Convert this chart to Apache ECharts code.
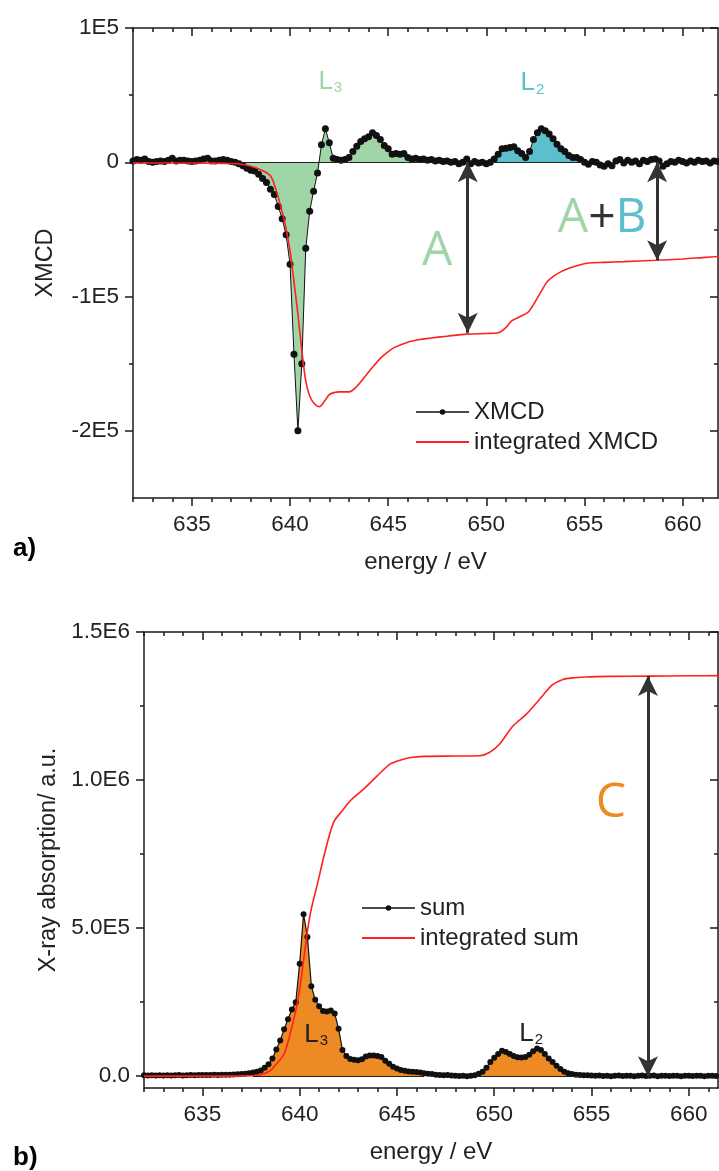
<!DOCTYPE html>
<html><head><meta charset="utf-8">
<script src="https://cdn.jsdelivr.net/npm/echarts@6/dist/echarts.min.js"></script>
<style>html,body{margin:0;padding:0;background:#fff}#c{width:719px;height:1171px}</style>
</head><body><div id="c"></div><script>
// ---------- DATA ----------
const energy = [632.0,632.2,632.4,632.6,632.8,633.0,633.2,633.4,633.6,633.8,634.0,634.2,634.4,634.6,634.8,635.0,635.2,635.4,635.6,635.8,636.0,636.2,636.4,636.6,636.8,637.0,637.2,637.4,637.6,637.8,638.0,638.2,638.4,638.6,638.8,639.0,639.2,639.4,639.6,639.8,640.0,640.2,640.4,640.6,640.8,641.0,641.2,641.4,641.6,641.8,642.0,642.2,642.4,642.6,642.8,643.0,643.2,643.4,643.6,643.8,644.0,644.2,644.4,644.6,644.8,645.0,645.2,645.4,645.6,645.8,646.0,646.2,646.4,646.6,646.8,647.0,647.2,647.4,647.6,647.8,648.0,648.2,648.4,648.6,648.8,649.0,649.2,649.4,649.6,649.8,650.0,650.2,650.4,650.6,650.8,651.0,651.2,651.4,651.6,651.8,652.0,652.2,652.4,652.6,652.8,653.0,653.2,653.4,653.6,653.8,654.0,654.2,654.4,654.6,654.8,655.0,655.2,655.4,655.6,655.8,656.0,656.2,656.4,656.6,656.8,657.0,657.2,657.4,657.6,657.8,658.0,658.2,658.4,658.6,658.8,659.0,659.2,659.4,659.6,659.8,660.0,660.2,660.4,660.6,660.8,661.0,661.2,661.4,661.6,661.8,662.0];

const xmcd = [
1000,2000,1500,2500,500, 0,500,1000,500,1500, 3000,1000,1500,1500,1000, 500,1000,1500,2500,3000,
1000,1000,1500,2000,1500, 500,0,-1000,-2500,-4500, -6000,-6500,-9000,-12000,-15000,
-20000,-24000,-33000,-42000,-54000, -76000,-143000,-200000,-150000,-64000,
-36500,-21500,-8000,13000,25000, 14500,3000,2000,1500,2000, 3500,8000,12000,15500,17500,
19000,22000,20000,17000,12500, 10000,6000,6500,6000,6500, 3500,2500,3000,2000,2500,
1500,2000,1000,1500,500, 1000,0,500,-1000,0, 2500,-1000,500,-500,0,
-1000,0,2500,6000,10000, 10500,11000,11500,8500,6500, 3500,8000,17000,22000,25000,
23500,21000,17500,13500,10000, 8000,5000,3500,3500,2000, 0,-1500,500,0,-2000,
-3000,-1000,-2500,1000,2000, -500,1500,0,1000,-1000, 1500,500,2000,2500,1000,
-3000,-1000,500,0,1500, 500,-500,1000,0,1500, 500,1000,-500,1000,500, 1000];

const sumXas = [
3000,2000,3000,2000,3000, 2500,3000,2000,3000,3500, 2500,3000,3500,3000,4000, 3500,4000,3500,4500,4000,
5000,4500,5000,6000,6500, 7000,8000,10000,12000,15000, 19000,28000,40000,60000,90000,
120000,158000,192000,225000,250000, 380000,547000,470000,304000,258000,
236000,220000,218000,222000,212000, 160000,88000,68000,58000,55000, 54000,57000,66000,70000,70000,
68000,65000,52000,42000,32000, 26000,21000,18000,16000,15000, 14000,12000,10000,8000,7000,
5000,4000,3000,3500,2000, 1000,500,1500,0,1000, 3000,8000,15000,28000,48000,
62000,75000,86000,82000,75000, 68000,64000,63000,65000,72000, 84000,93000,88000,75000,60000,
48000,35000,24000,15000,10000, 7000,5000,4000,3000,3000, 2000,1000,2000,500,1500,
0,1000,2000,500,1500, 1000,0,1500,2000,500, 1000,2000,0,1500,1000,
500,1500,1000,0,1500, 1000,500,1500,1000,0, 1000,1500,500,1000,1500, 1000];

const intEnergyXmcd = [632,634,636,637,637.5,638,638.5,639,639.25,639.5,639.75,640,640.2,640.4,640.6,640.8,641,641.25,641.5,641.75,642,642.25,642.5,643,643.4,643.9,644.3,644.6,645,645.3,646,646.6,647.1,648,649,650,650.6,651,651.3,651.7,652.1,652.4,652.8,653.1,653.5,654.2,655.2,656,657,658.6,660,661,662];
const intXmcd = [-500,-500,-600,-900,-1500,-3000,-5500,-10000,-19000,-31500,-46000,-66000,-89000,-113000,-140000,-163000,-174000,-180000,-182000,-178000,-173000,-171500,-171000,-171000,-167000,-158000,-151000,-146000,-141000,-138000,-134000,-132000,-131000,-129500,-128000,-127500,-127000,-123000,-118000,-115000,-112000,-106000,-96000,-89000,-84000,-79000,-75000,-74500,-74000,-73000,-72000,-71000,-70000];

const intEnergySum = [632,636,637,638,638.5,638.8,639.2,639.55,639.9,640.2,640.4,640.6,640.9,641.3,641.75,642.2,642.6,643.3,644,644.65,645.2,645.7,646.4,648,649.24,649.75,650.27,650.95,651.64,652.32,653,653.5,654,654.7,656,658,660,662];
const intSum = [0,0,1000,5000,19000,41000,75000,153000,254000,390000,490000,565000,645000,757000,858000,897000,930000,970000,1015000,1054000,1068000,1076000,1080000,1081000,1082000,1093000,1121000,1182000,1222000,1272000,1322000,1339000,1345000,1348000,1350000,1351000,1352000,1353000];

const xTicks = [635,640,645,650,655,660];
const yTicksA = [-200000,-100000,0,100000];
const yTickLabelsA = ['-2E5','-1E5','0','1E5'];
const yTicksB = [0,500000,1000000,1500000];
const yTickLabelsB = ['0.0','5.0E5','1.0E6','1.5E6'];

const l3Range = [637.2, 647.0];   // green filled L3 region (XMCD)
const l2Range = [650.2, 655.0];   // teal filled L2 region (XMCD)
const sumL3Range = [637.6, 646.4];
const sumL2Range = [649.0, 654.4];

const arrowA = [649.05, 0, -127000];
const arrowAB = [658.7, 0, -73000];
const arrowC = [657.9, 0, 1351000];

// ---------- STYLE ----------
const FONT = 'Liberation Sans';
const AX = '#1a1a1a';
const GREEN = '#a0d5a8', TEAL = '#5bbfcc', ORANGE = '#ee8a23', RED = '#ff2020';
const LINE_ICON = 'path://M0,0M53,12M0,5.1L53,5.1L53,6.9L0,6.9Z';
const DOT_ICON = 'path://M0,0M53,12M0,5.3L53,5.3L53,6.7L0,6.7Z M29.3,6A2.8,2.8 0 1,1 23.7,6A2.8,2.8 0 1,1 29.3,6Z';

const pts = (xs, ys) => xs.map((x, i) => [x, ys[i]]);
const xmcdPts = pts(energy, xmcd);
const sumPts = pts(energy, sumXas);
const inRange = (p, r) => p.filter(d => d[0] >= r[0] - 1e-9 && d[0] <= r[1] + 1e-9);

function xAxes(g, xmax) {
  const minor = [];
  for (let v = 632; v <= xmax; v++) if (xTicks.indexOf(v) < 0) minor.push(v);
  const base = {gridIndex: g, type: 'value', min: 632, max: xmax, splitLine: {show: false}};
  return [
    Object.assign({}, base, {position: 'bottom',
      axisLine: {show: true, onZero: false, lineStyle: {color: AX, width: 1.5}},
      axisTick: {show: true, customValues: xTicks, length: 8, lineStyle: {color: AX, width: 1.5}},
      axisLabel: {show: true, customValues: xTicks, fontSize: 22.5, color: '#222', fontFamily: FONT, margin: 15},
      name: 'energy / eV', nameLocation: 'middle', nameGap: 52,
      nameTextStyle: {fontSize: 24, color: '#222', fontFamily: FONT}}),
    Object.assign({}, base, {position: 'bottom', axisLine: {show: false, onZero: false},
      axisTick: {show: true, customValues: minor, length: 4, lineStyle: {color: AX, width: 1.5}},
      axisLabel: {show: false}}),
    Object.assign({}, base, {position: 'top',
      axisLine: {show: true, onZero: false, lineStyle: {color: AX, width: 1.5}},
      axisTick: {show: true, inside: true, customValues: xTicks, length: 8, lineStyle: {color: AX, width: 1.5}},
      axisLabel: {show: false}}),
    Object.assign({}, base, {position: 'top', axisLine: {show: false, onZero: false},
      axisTick: {show: true, inside: true, customValues: minor, length: 4, lineStyle: {color: AX, width: 1.5}},
      axisLabel: {show: false}})
  ];
}
function yAxes(g, min, max, majors, labels, minors, name, nameGap) {
  const base = {gridIndex: g, type: 'value', min: min, max: max, splitLine: {show: false}};
  return [
    Object.assign({}, base, {position: 'left',
      axisLine: {show: true, onZero: false, lineStyle: {color: AX, width: 1.5}},
      axisTick: {show: true, customValues: majors, length: 8, lineStyle: {color: AX, width: 1.5}},
      axisLabel: {show: true, customValues: majors, fontSize: 22.5, color: '#222', fontFamily: FONT, margin: 14,
        formatter: v => labels[majors.indexOf(v)]},
      name: name, nameLocation: 'middle', nameGap: nameGap,
      nameTextStyle: {fontSize: 23.5, color: '#222', fontFamily: FONT}}),
    Object.assign({}, base, {position: 'left', axisLine: {show: false, onZero: false},
      axisTick: {show: true, customValues: minors, length: 4, lineStyle: {color: AX, width: 1.5}},
      axisLabel: {show: false}}),
    Object.assign({}, base, {position: 'right',
      axisLine: {show: true, onZero: false, lineStyle: {color: AX, width: 1.5}},
      axisTick: {show: true, inside: true, customValues: majors, length: 8, lineStyle: {color: AX, width: 1.5}},
      axisLabel: {show: false}}),
    Object.assign({}, base, {position: 'right', axisLine: {show: false, onZero: false},
      axisTick: {show: true, inside: true, customValues: minors, length: 4, lineStyle: {color: AX, width: 1.5}},
      axisLabel: {show: false}})
  ];
}

function arrowLine(a) {
  return {symbol: ['arrow', 'arrow'], symbolSize: [15, 20], silent: true, animation: false,
    lineStyle: {color: '#333', width: 3, type: 'solid'}, label: {show: false},
    data: [[{coord: [a[0], a[1]]}, {coord: [a[0], a[2]]}]]};
}
function zeroLine(r) {
  return {symbol: ['none', 'none'], silent: true, animation: false,
    lineStyle: {color: '#222', width: 1, type: 'solid'}, label: {show: false},
    data: [[{coord: [r[0], 0]}, {coord: [r[1], 0]}]]};
}
function fill(name, data, color, xi, yi, r) {
  return {name: name, type: 'line', xAxisIndex: xi, yAxisIndex: yi, data: data, symbol: 'none',
    lineStyle: {width: 0}, areaStyle: {color: color, opacity: 1}, z: 1, silent: true, markLine: zeroLine(r)};
}
const big = f => ({fontSize: 48, fontFamily: 'Open Sans', color: f});
const sub = c => ({
  l: {fontSize: 26, fontFamily: FONT, color: c, lineHeight: 28},
  s: {fontSize: 15, fontFamily: FONT, color: c, lineHeight: 28, verticalAlign: 'bottom', padding: [13, 0, 0, 1]}});

const chart = echarts.init(document.getElementById('c'), null, {renderer: 'canvas'});
chart.setOption({
  animation: false,
  backgroundColor: '#fff',
  title: [
    {text: 'a)', left: 8, top: 531, textStyle: {fontSize: 26, fontWeight: 'bold', color: '#000', fontFamily: FONT}},
    {text: 'b)', left: 8, top: 1140, textStyle: {fontSize: 26, fontWeight: 'bold', color: '#000', fontFamily: FONT}}
  ],
  grid: [
    {left: 133, right: 1, top: 28, height: 470},
    {left: 144, right: 1, top: 632, height: 456}
  ],
  legend: [
    {data: [{name: 'XMCD', icon: DOT_ICON}, {name: 'integrated XMCD', icon: LINE_ICON}], orient: 'vertical', left: 411, top: 395,
      itemWidth: 53, itemHeight: 12, itemGap: 6, textStyle: {fontSize: 24, color: '#222', fontFamily: FONT}},
    {data: [{name: 'sum', icon: DOT_ICON}, {name: 'integrated sum', icon: LINE_ICON}], orient: 'vertical', left: 357, top: 891,
      itemWidth: 53, itemHeight: 12, itemGap: 6, textStyle: {fontSize: 24, color: '#222', fontFamily: FONT}}
  ],
  xAxis: xAxes(0, 661.8).concat(xAxes(1, 661.5)),
  yAxis: yAxes(0, -250000, 100000, yTicksA, yTickLabelsA, [-150000, -50000, 50000], 'XMCD', 75)
    .concat(yAxes(1, -40000, 1500000, yTicksB, yTickLabelsB, [250000, 750000, 1250000], 'X-ray absorption/ a.u.', 82)),
  series: [
    fill('L3 fill', inRange(xmcdPts, l3Range), GREEN, 0, 0, l3Range),
    fill('L2 fill', inRange(xmcdPts, l2Range), TEAL, 0, 0, l2Range),
    {name: 'XMCD', type: 'line', xAxisIndex: 0, yAxisIndex: 0, data: xmcdPts,
      symbol: 'circle', symbolSize: 7, showAllSymbol: true,
      lineStyle: {color: '#111', width: 1}, itemStyle: {color: '#111'}, z: 3,
      markLine: arrowLine(arrowA)},
    {name: 'integrated XMCD', type: 'line', xAxisIndex: 0, yAxisIndex: 0, data: pts(intEnergyXmcd, intXmcd),
      symbol: 'none', smooth: 0.3, lineStyle: {color: RED, width: 1.6}, itemStyle: {color: RED}, z: 4,
      markLine: arrowLine(arrowAB)},
    {name: 'labelsA', type: 'scatter', xAxisIndex: 0, yAxisIndex: 0, data: [], silent: true,
      markPoint: {symbol: 'circle', symbolSize: 1, itemStyle: {color: 'rgba(0,0,0,0)'}, animation: false,
        label: {show: true, position: 'inside'},
        data: [
          {coord: [647.5, -66000], label: {formatter: '{a|A}', rich: {a: big(GREEN)}}},
          {coord: [655.9, -42000], label: {formatter: '{a|A}{p|+}{b|B}', rich: {a: big(GREEN), p: big('#333'), b: big(TEAL)}}},
          {coord: [642.05, 60000], label: {formatter: '{l|L}{s|3}', rich: sub(GREEN)}},
          {coord: [652.35, 59000], label: {formatter: '{l|L}{s|2}', rich: sub(TEAL)}}
        ]}},

    fill('L3 sum fill', inRange(sumPts, sumL3Range), ORANGE, 4, 4, sumL3Range),
    fill('L2 sum fill', inRange(sumPts, sumL2Range), ORANGE, 4, 4, sumL2Range),
    {name: 'sum', type: 'line', xAxisIndex: 4, yAxisIndex: 4, data: sumPts,
      symbol: 'circle', symbolSize: 6, showAllSymbol: true,
      lineStyle: {color: '#111', width: 1.2}, itemStyle: {color: '#111'}, z: 3,
      markLine: arrowLine(arrowC)},
    {name: 'integrated sum', type: 'line', xAxisIndex: 4, yAxisIndex: 4, data: pts(intEnergySum, intSum),
      symbol: 'none', smooth: 0.3, lineStyle: {color: RED, width: 1.6}, itemStyle: {color: RED}, z: 4},
    {name: 'labelsB', type: 'scatter', xAxisIndex: 4, yAxisIndex: 4, data: [], silent: true,
      markPoint: {symbol: 'circle', symbolSize: 1, itemStyle: {color: 'rgba(0,0,0,0)'}, animation: false,
        label: {show: true, position: 'inside'},
        data: [
          {coord: [656.0, 920000], label: {formatter: '{a|C}', rich: {a: big(ORANGE)}}},
          {coord: [640.85, 140000], label: {formatter: '{l|L}{s|3}', rich: sub('#222')}},
          {coord: [651.9, 144000], label: {formatter: '{l|L}{s|2}', rich: sub('#222')}}
        ]}}
  ]
});
</script></body></html>
